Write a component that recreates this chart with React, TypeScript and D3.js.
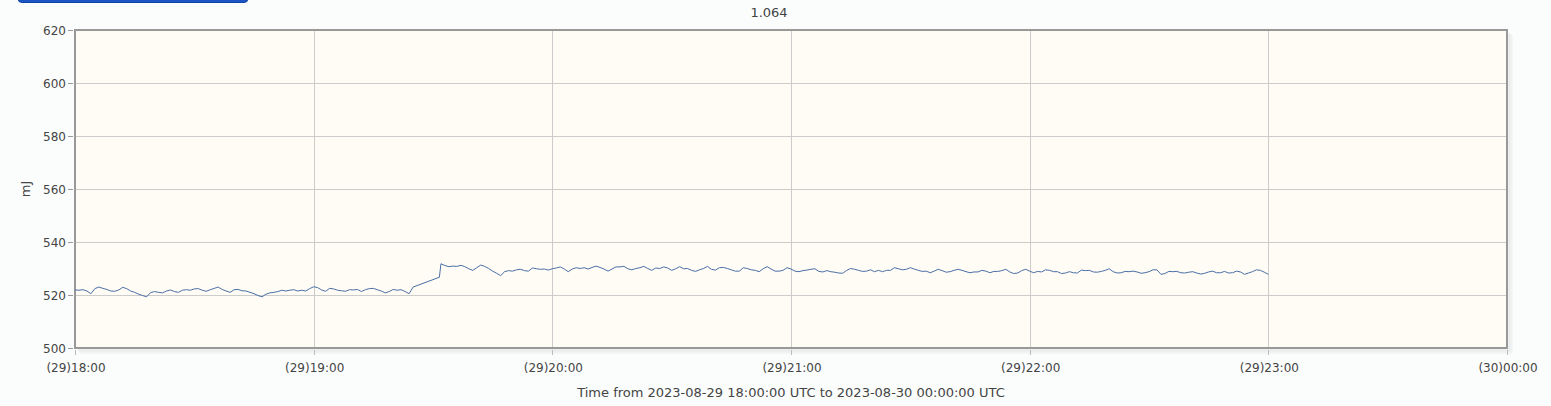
import React from "react";
import * as d3 from "d3";

// ---- data ----
const title = "1.064";
const yLabel = "mJ";
const xLabel = "Time from 2023-08-29 18:00:00 UTC to 2023-08-30 00:00:00 UTC";
const rangeStart = "2023-08-29T18:00:00Z";
const rangeEnd = "2023-08-30T00:00:00Z";
const yTicks = [500, 520, 540, 560, 580, 600, 620];
const xTickLabels = ["(29)18:00", "(29)19:00", "(29)20:00", "(29)21:00", "(29)22:00", "(29)23:00", "(30)00:00"];

// segment 1: one sample per minute from 18:00
const seg1StartMin = 0;
const seg1 = [
  521.9, 521.8, 522.0, 521.5, 520.5, 522.4, 523.0, 522.5, 522.1, 521.5,
  521.4, 521.9, 522.9, 522.4, 521.5, 521.0, 520.3, 519.8, 519.3, 520.9,
  521.3, 521.0, 520.8, 521.5, 521.9, 521.3, 521.0, 521.8, 522.0, 521.8,
  522.3, 522.4, 521.8, 521.4, 522.0, 522.5, 523.0, 522.1, 521.5, 521.0,
  522.0, 522.1, 521.6, 521.5, 521.0, 520.5, 519.8, 519.3, 520.3, 520.8,
  521.0, 521.3, 521.8, 521.5, 521.8, 522.0, 521.5, 521.8, 521.5, 522.4,
  523.1, 522.8, 521.9, 521.4, 522.5, 522.3, 521.8, 521.6, 521.4, 522.0,
  521.9, 522.1, 521.3, 522.0, 522.4, 522.5, 522.0, 521.5, 520.8, 521.3,
  522.1, 521.8, 522.0, 521.3, 520.5, 523.0,
];
// single sample after the data gap
const gapSampleMin = 91.6;
const gapSampleValue = 526.7;
// segment 2: one sample per minute from 19:32
const seg2StartMin = 92;
const seg2 = [
  531.8, 531.1, 530.7, 530.9, 530.8, 531.2, 530.7, 529.9,
  529.3, 530.3, 531.3, 530.8, 530.0, 529.0, 528.2, 527.3, 528.8, 529.2,
  529.0, 529.5, 529.7, 529.2, 529.0, 530.2, 529.9, 529.7, 529.8, 529.4,
  529.9, 530.2, 530.6, 529.8, 528.8, 529.8, 530.3, 530.0, 530.3, 529.8,
  530.4, 530.9, 530.4, 529.8, 529.0, 529.8, 530.6, 530.6, 530.8, 529.9,
  529.5, 530.0, 530.3, 530.8, 530.0, 529.3, 530.2, 530.0, 530.6, 530.2,
  529.3, 529.9, 530.7, 529.9, 530.0, 529.3, 528.9, 529.5, 530.0, 530.8,
  529.7, 529.4, 530.3, 530.4, 530.0, 529.5, 529.0, 529.0, 530.3, 530.0,
  529.5, 529.3, 528.8, 529.9, 530.7, 529.8, 529.0, 529.0, 529.3, 530.3,
  529.8, 529.0, 528.8, 529.2, 529.4, 529.7, 529.9, 528.9, 528.7, 529.2,
  528.8, 528.6, 528.3, 528.2, 529.3, 530.0, 529.7, 529.3, 528.9, 529.0,
  529.5, 528.8, 529.3, 528.8, 529.3, 529.3, 530.3, 529.9, 529.5, 529.7,
  530.3, 529.8, 529.3, 528.9, 529.0, 528.4, 529.0, 529.7, 529.2, 528.6,
  528.8, 529.3, 529.7, 529.3, 528.8, 528.4, 528.7, 528.7, 529.3, 529.0,
  528.4, 528.9, 528.9, 529.2, 529.7, 528.7, 528.1, 528.3, 529.2, 529.7,
  529.0, 528.4, 528.9, 528.7, 529.5, 529.3, 528.8, 528.8, 528.1, 528.3,
  528.8, 528.4, 528.3, 529.4, 529.2, 529.3, 528.7, 528.6, 528.9, 529.3,
  529.9, 528.8, 528.3, 528.4, 528.9, 528.8, 529.0, 528.7, 528.2, 528.4,
  528.8, 529.5, 529.5, 527.8, 528.1, 528.9, 528.8, 528.9, 528.4, 528.3,
  528.6, 528.8, 528.3, 527.9, 528.2, 528.7, 529.0, 528.4, 528.4, 528.9,
  528.3, 528.4, 529.0, 528.7, 527.8, 528.3, 528.8, 529.5, 529.3, 528.6, 527.8,
];

type Pt = { t: Date; v: number };

export default function App() {
  const W = 1551;
  const H = 406;
  const left = 75, right = 1507, top = 30, bottom = 348;
  const t0 = new Date(rangeStart);
  const t1 = new Date(rangeEnd);
  const x = d3.scaleUtc().domain([t0, t1]).range([left, right]);
  const y = d3.scaleLinear().domain([500, 620]).range([bottom, top]);
  const minToDate = (m: number) => new Date(t0.getTime() + m * 60000);

  const pts: Pt[] = [];
  seg1.forEach((v, i) => pts.push({ t: minToDate(seg1StartMin + i), v }));
  pts.push({ t: minToDate(gapSampleMin), v: gapSampleValue });
  seg2.forEach((v, i) => pts.push({ t: minToDate(seg2StartMin + i), v }));

  const line = d3.line<Pt>().x((d) => x(d.t)).y((d) => y(d.v));
  const xTicks = d3.utcHour.range(t0, new Date(t1.getTime() + 1), 1);
  const font = "'DejaVu Sans', Verdana, sans-serif";

  return (
    <svg width={W} height={H} style={{ position: "absolute", left: 0, top: 0 }}>
      <rect x={0} y={0} width={W} height={H} fill="#fbfdfd" />
      {/* top-left button fragment */}
      <rect x={18} y={-10} width={230} height={12.5} rx={4} fill="#1b56c4" stroke="#1046a8" strokeWidth={1} />
      {/* title */}
      <text x={769} y={17} textAnchor="middle" fontFamily={font} fontSize={13} fill="#444">{title}</text>
      {/* plot background */}
      <rect x={left} y={top} width={right - left} height={bottom - top} fill="#fffcf5" />
      {/* grid */}
      {yTicks.map((v) => (
        <line key={"gy" + v} x1={left} x2={right} y1={Math.round(y(v)) + 0.5} y2={Math.round(y(v)) + 0.5} stroke="#cccccc" strokeWidth={1} />
      ))}
      {xTicks.map((d, i) => (
        <line key={"gx" + i} x1={Math.round(x(d)) + 0.5} x2={Math.round(x(d)) + 0.5} y1={top} y2={bottom} stroke="#cccccc" strokeWidth={1} />
      ))}
      {/* shadow */}
      <g fill="none" strokeLinecap="butt">
        <polyline points={`${right + 2},${top + 3} ${right + 2},${bottom + 2} ${left + 3},${bottom + 2}`} stroke="rgba(0,0,0,0.07)" strokeWidth={1.5} />
        <polyline points={`${right + 3.5},${top + 4} ${right + 3.5},${bottom + 3.5} ${left + 4},${bottom + 3.5}`} stroke="rgba(0,0,0,0.05)" strokeWidth={1.5} />
        <polyline points={`${right + 5},${top + 5} ${right + 5},${bottom + 5} ${left + 5},${bottom + 5}`} stroke="rgba(0,0,0,0.03)" strokeWidth={1.5} />
      </g>
      {/* border */}
      <rect x={left} y={top} width={right - left} height={bottom - top} fill="none" stroke="#999999" strokeWidth={2} />
      {/* y ticks */}
      {yTicks.map((v) => (
        <g key={"yt" + v}>
          <line x1={left - 7} x2={left - 2} y1={Math.round(y(v)) + 0.5} y2={Math.round(y(v)) + 0.5} stroke="#999" strokeWidth={1} />
          <text x={left - 9} y={y(v) + 4.5} textAnchor="end" fontFamily={font} fontSize={12} fill="#444">{v}</text>
        </g>
      ))}
      {/* x ticks */}
      {xTicks.map((d, i) => (
        <g key={"xt" + i}>
          <line x1={Math.round(x(d)) + 0.5} x2={Math.round(x(d)) + 0.5} y1={bottom + 2} y2={bottom + 7} stroke="#bbb" strokeWidth={1} />
          <text x={x(d) + 1} y={372} textAnchor="middle" fontFamily={font} fontSize={12} fill="#444">{xTickLabels[i]}</text>
        </g>
      ))}
      {/* axis labels */}
      <text x={791} y={397} textAnchor="middle" fontFamily={font} fontSize={13} fill="#444">{xLabel}</text>
      <text transform={`translate(30,189) rotate(-90)`} textAnchor="middle" fontFamily={font} fontSize={13} fill="#444">{yLabel}</text>
      {/* series */}
      <path d={line(pts) || ""} fill="none" stroke="#4a6fa6" strokeWidth={1} strokeLinejoin="round" />
    </svg>
  );
}
